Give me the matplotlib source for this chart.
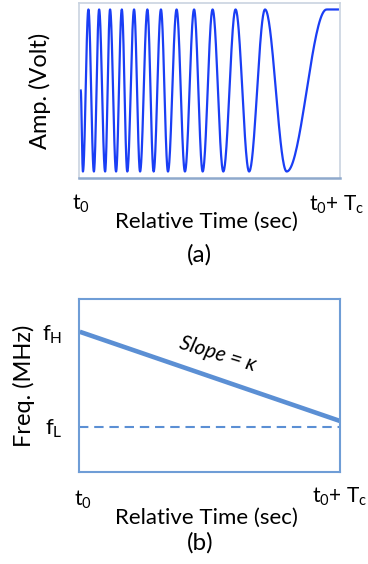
import numpy as np
import matplotlib
matplotlib.use("Agg")
import matplotlib.pyplot as plt

plt.rcParams["font.family"] = ["Lato", "DejaVu Sans"]
plt.rcParams["mathtext.fontset"] = "custom"
plt.rcParams["mathtext.rm"] = "Lato"
plt.rcParams["mathtext.it"] = "Lato:italic"

# (a) chirp waveform: extrema (time as fraction of T_c)
ext_t = [0.0065, 0.015, 0.036, 0.057, 0.077, 0.100, 0.119, 0.142, 0.164, 0.185,
         0.211, 0.234, 0.262, 0.286, 0.314, 0.341, 0.374, 0.406, 0.441, 0.474,
         0.512, 0.553, 0.600, 0.652, 0.713, 0.796, 0.949, 0.992]
ext_v = [0, -1, 1, -1, 1, -1, 1, -1, 1, -1,
         1, -1, 1, -1, 1, -1, 1, -1, 1, -1,
         1, -1, 1, -1, 1, -1, 1, 1]

# (b) frequency sweep (f_H = 1, f_L = 0)
freq_t = [0.003, 1.0]
freq_v = [1.0, 0.06]
f_low = 0.0

FS_Y = 17
FS_X = 16
FS_T = 15
FS_P = 17.5

t0 = r"t$_\mathrm{0}$"
tend = r"t$_\mathrm{0}$+ T$_\mathrm{c}$"

fig = plt.figure(figsize=(3.68, 5.64), dpi=100)

# ---- (a) ----
ax1 = fig.add_axes([0.2147, 0.6844, 0.709, 0.3103])
xs, ys = [], []
for i in range(len(ext_t) - 1):
    s = np.linspace(0, 1, 40)
    va, vb = ext_v[i], ext_v[i + 1]
    xs.append(ext_t[i] + (ext_t[i + 1] - ext_t[i]) * s)
    ys.append(va + (vb - va) * (1 - np.cos(np.pi * s)) / 2)
ax1.plot(np.concatenate(xs), np.concatenate(ys), color="#1a3ef5", lw=1.6)
ax1.set_xlim(0, 1)
ax1.set_ylim(-1.08, 1.08)
ax1.set_xticks([])
ax1.set_yticks([])
for side in ["top", "left", "right"]:
    ax1.spines[side].set_color("#c9d3e0")
    ax1.spines[side].set_linewidth(1.2)
ax1.spines["bottom"].set_color("#8fa9cc")
ax1.spines["bottom"].set_linewidth(1.8)
ax1.set_ylabel("Amp. (Volt)", fontsize=FS_Y, labelpad=20)
ax1.text(0.008, -0.149, t0, transform=ax1.transAxes, fontsize=FS_T, ha="center", va="center")
ax1.text(0.989, -0.154, tend, transform=ax1.transAxes, fontsize=FS_T, ha="center", va="center")
ax1.text(0.487, -0.251, "Relative Time (sec)", transform=ax1.transAxes, fontsize=FS_X, ha="center", va="center")
ax1.text(0.46, -0.44, "(a)", transform=ax1.transAxes, fontsize=FS_P, ha="center", va="center")

# ---- (b) ----
ax2 = fig.add_axes([0.2147, 0.1631, 0.709, 0.3067])
ax2.plot(freq_t, freq_v, color="#5b8fd4", lw=3.3, solid_capstyle="butt")
ax2.axhline(f_low, color="#5b8fd4", lw=1.5, ls=(0, (4.5, 2.8)))
ax2.set_xlim(0, 1)
ax2.set_ylim(-0.478, 1.345)
ax2.set_xticks([])
ax2.set_yticks([1.0, f_low])
ax2.set_yticklabels([r"f$_\mathrm{H}$", r"f$_\mathrm{L}$"], fontsize=FS_T + 1)
ax2.tick_params(axis="y", length=0, pad=12)
for side in ax2.spines.values():
    side.set_color("#6f9dd6")
    side.set_linewidth(1.5)
ax2.set_ylabel("Freq. (MHz)", fontsize=FS_Y, labelpad=5)
ax2.text(0.53, 0.68, "Slope = \u03ba", transform=ax2.transAxes, fontsize=FS_T, style="italic",
         rotation=-17, ha="center", va="center")
ax2.text(0.015, -0.162, t0, transform=ax2.transAxes, fontsize=FS_T, ha="center", va="center")
ax2.text(1.0, -0.145, tend, transform=ax2.transAxes, fontsize=FS_T, ha="center", va="center")
ax2.text(0.487, -0.266, "Relative Time (sec)", transform=ax2.transAxes, fontsize=FS_X, ha="center", va="center")
ax2.text(0.464, -0.41, "(b)", transform=ax2.transAxes, fontsize=FS_P, ha="center", va="center")

fig.savefig("out.png", dpi=100)
